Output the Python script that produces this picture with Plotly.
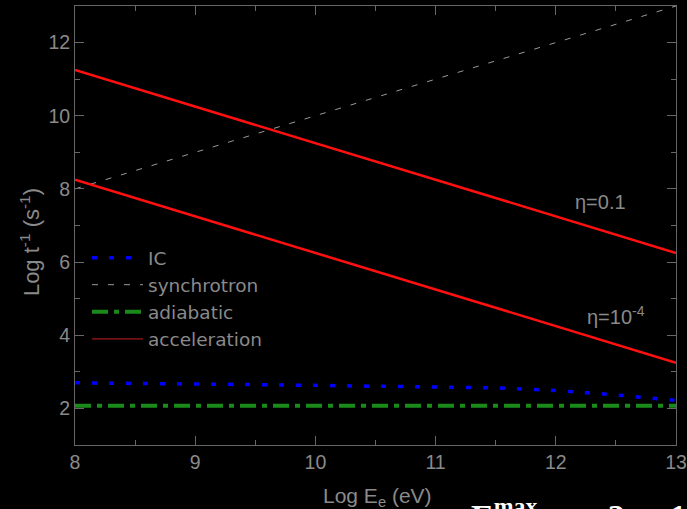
import plotly.graph_objects as go

# ---- data ----
energy_acc = [8, 13]
acc_eta01 = [11.25, 6.25]
acc_eta1e4 = [8.25, 3.25]

energy_syn = [8, 13]
synchrotron = [8.0, 13.0]

energy_ic = [8.0, 8.5, 9.0, 9.5, 10.0, 10.5, 11.0, 11.5, 12.0, 12.5, 13.0]
ic = [2.70, 2.69, 2.67, 2.65, 2.63, 2.61, 2.59, 2.56, 2.49, 2.37, 2.22]

energy_ad = [8, 13]
adiabatic = [2.07, 2.07]

label_eta01 = "η=0.1"
label_eta1e4 = "η=10<sup>-4</sup>"
x_title = "Log E<sub>e</sub> (eV)"
y_title = "Log t<sup>-1</sup> (s<sup>-1</sup>)"

TXT = "#8a8a8a"
FONT = "Liberation Sans, Arial, sans-serif"
TICKFONT = "Liberation Sans Narrow, Arial Narrow, Liberation Sans, Arial, sans-serif"
LEGFONT = "DejaVu Sans, Liberation Sans, sans-serif"

fig = go.Figure()

fig.add_trace(go.Scatter(x=energy_ic, y=ic, mode="lines", name="IC",
                         line=dict(color="#0000ff", width=3.5, dash="5px,12px")))
fig.add_trace(go.Scatter(x=energy_syn, y=synchrotron, mode="lines", name="synchrotron",
                         line=dict(color="#9a9a9a", width=1, dash="6px,10px")))
fig.add_trace(go.Scatter(x=energy_ad, y=adiabatic, mode="lines", name="adiabatic",
                         line=dict(color="#1a8a1a", width=4, dash="16px,6px,5px,6px")))
fig.add_trace(go.Scatter(x=[None], y=[None], mode="lines", name="acceleration",
                         line=dict(color="#a01818", width=1.2)))
fig.add_trace(go.Scatter(x=energy_acc, y=acc_eta01, mode="lines", showlegend=False,
                         line=dict(color="#ff1010", width=2.5)))
fig.add_trace(go.Scatter(x=energy_acc, y=acc_eta1e4, mode="lines", showlegend=False,
                         line=dict(color="#ff1010", width=2.5)))

fig.add_annotation(x=12.37, y=7.65, text=label_eta01, showarrow=False,
                   font=dict(color=TXT, size=20, family=FONT))
fig.add_annotation(x=12.5, y=4.55, text=label_eta1e4, showarrow=False,
                   font=dict(color=TXT, size=20, family=FONT))

# axis titles placed as annotations
fig.add_annotation(xref="paper", yref="paper", x=0.503, y=-0.118,
                   xanchor="center", yanchor="middle", text=x_title, showarrow=False,
                   font=dict(color=TXT, size=21, family=FONT))
fig.add_annotation(xref="paper", yref="paper", x=-0.075, y=0.462,
                   xanchor="center", yanchor="middle", text=y_title, showarrow=False,
                   textangle=-90, font=dict(color=TXT, size=22, family=FONT))

# cut-off formula from the slide below the chart
fig.add_annotation(xref="paper", yref="paper", x=0.655, y=-0.105,
                   xanchor="left", yanchor="top",
                   text="<b>E<sup>max</sup>   =   2 ×  10</b>", showarrow=False,
                   font=dict(color="white", size=34, family="Liberation Serif, Times New Roman, serif"))

axis_common = dict(showline=True, linecolor="#666666", linewidth=1, mirror="ticks",
                   ticks="inside", ticklen=9, tickcolor="#666666", tickwidth=1,
                   showgrid=False, zeroline=False, automargin=False,
                   ticklabeloverflow="allow",
                   tickfont=dict(color=TXT, size=19.5, family=TICKFONT))

fig.update_xaxes(range=[8, 13], dtick=1, tick0=8,
                 minor=dict(dtick=0.5, ticks="inside", ticklen=5, tickcolor="#666666"),
                 **axis_common)
fig.update_yaxes(range=[1, 13], dtick=2, tick0=0,
                 minor=dict(dtick=1, ticks="inside", ticklen=5, tickcolor="#666666"),
                 **axis_common)

fig.update_layout(
    width=687, height=509,
    margin=dict(l=75, r=11, t=6, b=64, autoexpand=False),
    paper_bgcolor="black", plot_bgcolor="black",
    legend=dict(x=0.02, y=0.469, xanchor="left", yanchor="top",
                bgcolor="rgba(0,0,0,0)", font=dict(color=TXT, size=18.5, family=LEGFONT),
                tracegroupgap=0, itemwidth=51),
    showlegend=True,
)

fig.write_html("out.html")
